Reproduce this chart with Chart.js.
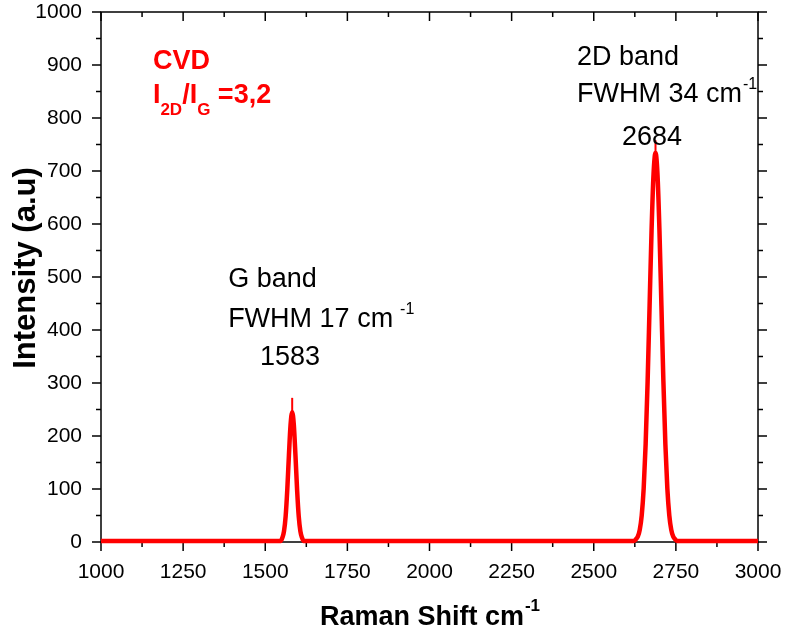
<!DOCTYPE html>
<html><head><meta charset="utf-8">
<script src="https://cdn.jsdelivr.net/npm/chart.js@4/dist/chart.umd.min.js"></script>
<style>html,body{margin:0;padding:0;background:#fff;}#wrap{width:785px;height:634px;position:relative;}</style>
</head><body><div id="wrap"><canvas id="c"></canvas></div>
<script>
// Fitted Raman spectrum (Raman shift in cm-1, intensity in a.u.)
const ramanShift = [1000, 1250, 1500, 1540, 1547, 1552, 1557, 1562, 1567, 1572, 1577, 1582, 1587, 1592, 1597, 1602, 1607, 1612, 1617, 1625, 2000, 2500, 2615, 2622, 2628, 2634, 2640, 2646, 2652, 2658, 2664, 2670, 2676, 2682, 2688, 2694, 2700, 2706, 2712, 2718, 2724, 2730, 2736, 2742, 2748, 2754, 2762, 2800, 3000];
const intensity = [2, 2, 2, 2, 2, 8, 20, 48, 98, 163, 221, 245, 221, 163, 98, 48, 20, 8, 2, 2, 2, 2, 2, 2, 5, 10, 23, 50, 101, 185, 303, 446, 588, 694, 734, 694, 588, 446, 303, 185, 101, 50, 23, 10, 5, 2, 2, 2, 2];
// thin spikes at the peak maxima
const gSpikeShift = [1582, 1582];
const gSpikeIntensity = [236, 272];
const dSpikeShift = [2688, 2688];
const dSpikeIntensity = [726, 758];
// axis ticks
const xTickValues = [1000, 1250, 1500, 1750, 2000, 2250, 2500, 2750, 3000];
const yTickValues = [0, 100, 200, 300, 400, 500, 600, 700, 800, 900, 1000];
// annotations: [text, x (cm-1), y (a.u.)]
const gBandLines = [["G band", 1387, 481], ["FWHM 17 cm", 1387, 406], ["1583", 1484, 334]];
const dBandLines = [["2D band", 2449, 900], ["FWHM 34 cm", 2449, 830], ["2684", 2586, 749]];

const FONT = '"Liberation Sans", Arial, Helvetica, sans-serif';
const toXY = (xs, ys) => xs.map((v, i) => ({x: v, y: ys[i]}));

const framePlugin = {
  id: 'frame',
  beforeDatasetsDraw(chart) {
    const {ctx, chartArea: a, scales: {x, y}} = chart;
    ctx.save();
    ctx.strokeStyle = '#000';
    ctx.lineWidth = 1.5;
    ctx.lineCap = 'square';
    ctx.strokeRect(a.left, a.top, a.right - a.left, a.bottom - a.top);
    const line = (x1, y1, x2, y2) => { ctx.beginPath(); ctx.moveTo(x1, y1); ctx.lineTo(x2, y2); ctx.stroke(); };
    ctx.lineCap = 'butt';
    for (let i = 0; i < xTickValues.length; i++) {
      const px = x.getPixelForValue(xTickValues[i]);
      line(px, a.bottom, px, a.bottom + 9);
      line(px, a.top, px, a.top + 9);
      if (i < xTickValues.length - 1) {
        const pm = x.getPixelForValue((xTickValues[i] + xTickValues[i + 1]) / 2);
        line(pm, a.bottom, pm, a.bottom + 5);
        line(pm, a.top, pm, a.top + 5);
      }
    }
    for (let i = 0; i < yTickValues.length; i++) {
      const py = y.getPixelForValue(yTickValues[i]);
      line(a.left - 9, py, a.left, py);
      line(a.right, py, a.right + 9, py);
      if (i < yTickValues.length - 1) {
        const pm = y.getPixelForValue((yTickValues[i] + yTickValues[i + 1]) / 2);
        line(a.left - 5, pm, a.left, pm);
        line(a.right, pm, a.right + 5, pm);
      }
    }
    ctx.restore();
  },
  afterDraw(chart) {
    const {ctx, chartArea: a, scales: {x, y}} = chart;
    ctx.save();
    ctx.textBaseline = 'alphabetic';
    ctx.textAlign = 'left';
    ctx.fillStyle = '#000';
    // peak annotations
    const drawLines = (lines, supSpace) => {
      lines.forEach(([t, xv, yv], i) => {
        const px = x.getPixelForValue(xv), py = y.getPixelForValue(yv);
        ctx.font = '27px ' + FONT;
        ctx.fillText(t, px, py);
        if (i === 1) {
          const w = ctx.measureText(t).width;
          ctx.font = '16px ' + FONT;
          ctx.fillText('-1', px + w + supSpace, py - 13);
        }
      });
    };
    drawLines(gBandLines, 7);
    drawLines(dBandLines, 1);

    // CVD label (red, bold)
    ctx.fillStyle = '#ff0000';
    let px = x.getPixelForValue(1158), py = y.getPixelForValue(892);
    ctx.font = 'bold 27px ' + FONT;
    ctx.fillText('CVD', px, py);
    py = y.getPixelForValue(828);
    const big = 'bold 27px ' + FONT, small = 'bold 17px ' + FONT;
    const parts = [['I', big, 0], ['2D', small, 12], ['/I', big, 0], ['G', small, 12], [' =3,2', big, 0]];
    let cx = px;
    parts.forEach(([t, f, dy]) => {
      ctx.font = f;
      ctx.fillText(t, cx, py + dy);
      cx += ctx.measureText(t).width;
    });

    // axis titles
    ctx.fillStyle = '#000';
    const xTitle = 'Raman Shift cm', xSup = '-1';
    ctx.font = 'bold 27px ' + FONT;
    const w1 = ctx.measureText(xTitle).width;
    ctx.font = 'bold 17px ' + FONT;
    const w2 = ctx.measureText(xSup).width;
    const cxm = (a.left + a.right) / 2;
    let sx = cxm - (w1 + w2) / 2;
    ctx.font = 'bold 27px ' + FONT;
    ctx.fillText(xTitle, sx, 625);
    ctx.font = 'bold 17px ' + FONT;
    ctx.fillText(xSup, sx + w1 + 1, 611);

    ctx.translate(35, 268);
    ctx.rotate(-Math.PI / 2);
    ctx.font = 'bold 31px ' + FONT;
    ctx.textAlign = 'center';
    ctx.fillText('Intensity (a.u)', 0, 0);
    ctx.restore();
  }
};

const noPad = s => { s.paddingTop = 0; s.paddingBottom = 0; s.paddingLeft = 0; s.paddingRight = 0; };

new Chart(document.getElementById('c'), {
  type: 'line',
  data: {
    datasets: [
      {label: 'Fit', data: toXY(ramanShift, intensity), borderColor: '#ff0000', borderWidth: 4.5, pointRadius: 0, cubicInterpolationMode: 'monotone', fill: false, clip: false},
      {label: 'G max', data: toXY(gSpikeShift, gSpikeIntensity), borderColor: '#ff0000', borderWidth: 2, pointRadius: 0, fill: false},
      {label: '2D max', data: toXY(dSpikeShift, dSpikeIntensity), borderColor: '#ff0000', borderWidth: 2, pointRadius: 0, fill: false}
    ]
  },
  options: {
    responsive: true,
    maintainAspectRatio: false,
    animation: false,
    devicePixelRatio: 1,
    layout: {padding: {left: 0, top: 12, right: 27, bottom: 0}},
    plugins: {legend: {display: false}, tooltip: {enabled: false}},
    scales: {
      x: {
        type: 'linear', min: 1000, max: 3000,
        afterFit: s => { s.height = 92; noPad(s); },
        afterBuildTicks: s => { s.ticks = xTickValues.map(v => ({value: v})); },
        grid: {display: false, drawTicks: false},
        border: {display: false},
        ticks: {color: '#000', font: {family: FONT, size: 21}, padding: 18, maxRotation: 0, autoSkip: false, callback: v => String(v)}
      },
      y: {
        type: 'linear', min: 0, max: 1000,
        afterFit: s => { s.width = 101; noPad(s); },
        afterBuildTicks: s => { s.ticks = yTickValues.map(v => ({value: v})); },
        grid: {display: false, drawTicks: false},
        border: {display: false},
        ticks: {color: '#000', font: {family: FONT, size: 21}, padding: 19, autoSkip: false, callback: v => String(v)}
      }
    }
  },
  plugins: [framePlugin]
});
</script>
</body></html>
